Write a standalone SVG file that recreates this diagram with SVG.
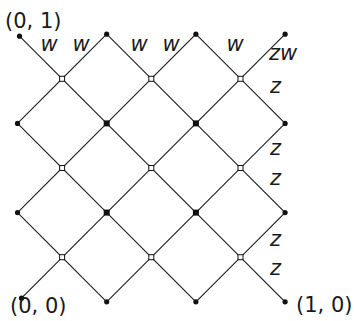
<svg xmlns="http://www.w3.org/2000/svg" width="354" height="321" viewBox="0 0 354 321">
<style>
.e{stroke:#1a1a1a;stroke-width:1.1;fill:none}
.d{fill:#111}
.o{fill:#fff;stroke:#111;stroke-width:1}
.f{fill:#111}
.t{font-family:"DejaVu Sans",sans-serif;font-size:21px;fill:#1a1a1a}
.m{font-family:"DejaVu Sans",sans-serif;font-style:italic;font-size:21px;fill:#1a1a1a;text-anchor:middle}
</style>
<rect width="354" height="321" fill="#fff"/>
<g id="connectors">
<line class="e" x1="19.5" y1="36.2" x2="285.1" y2="301.8"/>
<line class="e" x1="106.7" y1="34.2" x2="285.1" y2="212.6"/>
<line class="e" x1="195.9" y1="34.2" x2="285.1" y2="123.4"/>
<line class="e" x1="17.5" y1="123.4" x2="195.9" y2="301.8"/>
<line class="e" x1="17.5" y1="212.6" x2="106.7" y2="301.8"/>
<line class="e" x1="17.5" y1="123.4" x2="106.7" y2="34.2"/>
<line class="e" x1="17.5" y1="212.6" x2="195.9" y2="34.2"/>
<line class="e" x1="21.5" y1="298.2" x2="285.1" y2="34.2"/>
<line class="e" x1="106.7" y1="301.8" x2="285.1" y2="123.4"/>
<line class="e" x1="195.9" y1="301.8" x2="285.1" y2="212.6"/>
</g>
<g id="n01"><circle class="d" cx="19.5" cy="36.2" r="2.6"/></g>
<g id="n20"><circle class="d" cx="106.7" cy="34.2" r="2.6"/></g>
<g id="n40"><circle class="d" cx="195.9" cy="34.2" r="2.6"/></g>
<g id="n60"><circle class="d" cx="285.1" cy="34.2" r="2.6"/></g>
<g id="s11"><rect class="o" x="59.6" y="76.3" width="5" height="5"/></g>
<g id="s31"><rect class="o" x="148.8" y="76.3" width="5" height="5"/></g>
<g id="s51"><rect class="o" x="238" y="76.3" width="5" height="5"/></g>
<g id="n02"><circle class="d" cx="17.5" cy="123.4" r="2.6"/></g>
<g id="q22"><rect class="f" x="103.7" y="120.4" width="6" height="6"/></g>
<g id="q42"><rect class="f" x="192.9" y="120.4" width="6" height="6"/></g>
<g id="n62"><circle class="d" cx="285.1" cy="123.4" r="2.6"/></g>
<g id="s13"><rect class="o" x="59.6" y="165.5" width="5" height="5"/></g>
<g id="s33"><rect class="o" x="148.8" y="165.5" width="5" height="5"/></g>
<g id="s53"><rect class="o" x="238" y="165.5" width="5" height="5"/></g>
<g id="n04"><circle class="d" cx="17.5" cy="212.6" r="2.6"/></g>
<g id="q24"><rect class="f" x="103.7" y="209.6" width="6" height="6"/></g>
<g id="q44"><rect class="f" x="192.9" y="209.6" width="6" height="6"/></g>
<g id="n64"><circle class="d" cx="285.1" cy="212.6" r="2.6"/></g>
<g id="s15"><rect class="o" x="59.6" y="254.7" width="5" height="5"/></g>
<g id="s35"><rect class="o" x="148.8" y="254.7" width="5" height="5"/></g>
<g id="s55"><rect class="o" x="238" y="254.7" width="5" height="5"/></g>
<g id="n00"><circle class="d" cx="21.5" cy="298.2" r="2.6"/></g>
<g id="n26"><circle class="d" cx="106.7" cy="301.8" r="2.6"/></g>
<g id="n46"><circle class="d" cx="195.9" cy="301.8" r="2.6"/></g>
<g id="n10"><circle class="d" cx="285.1" cy="301.8" r="2.6"/></g>
<g id="labels">
<text class="t" x="5" y="27.5">(0, 1)</text>
<text class="t" x="10" y="313">(0, 0)</text>
<text class="t" x="296" y="312">(1, 0)</text>
<text class="m" x="49" y="50.5">w</text>
<text class="m" x="81" y="50.5">w</text>
<text class="m" x="139" y="50.5">w</text>
<text class="m" x="171" y="50.5">w</text>
<text class="m" x="235" y="50.5">w</text>
<text class="m" x="283" y="60">zw</text>
<text class="m" x="275.5" y="93">z</text>
<text class="m" x="275.5" y="155">z</text>
<text class="m" x="275.5" y="185">z</text>
<text class="m" x="275.5" y="246">z</text>
<text class="m" x="275.5" y="275">z</text>
</g>
</svg>
